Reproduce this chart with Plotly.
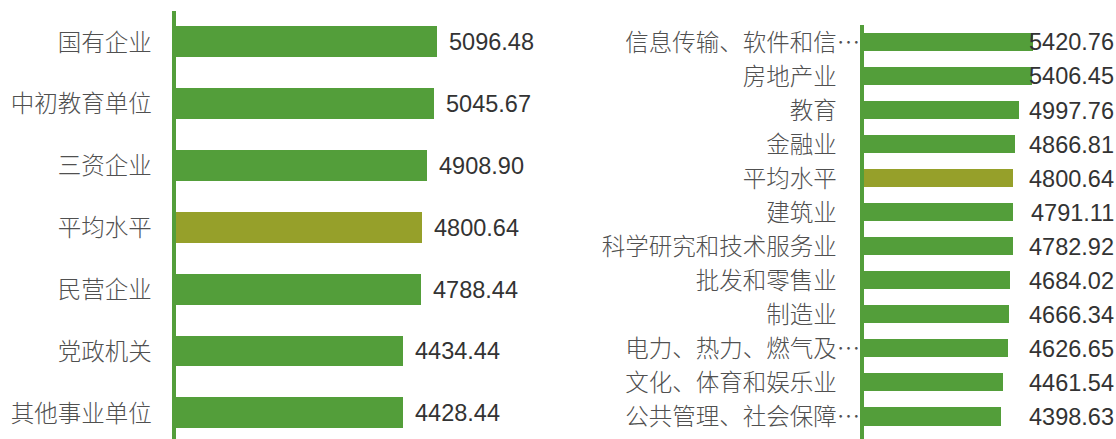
import plotly.graph_objects as go

# ---------------- data ----------------
left_categories = ["国有企业", "中初教育单位", "三资企业", "平均水平", "民营企业", "党政机关", "其他事业单位"]
left_values = [5096.48, 5045.67, 4908.90, 4800.64, 4788.44, 4434.44, 4428.44]

right_categories = [
    "信息传输、软件和信息技术服务业", "房地产业", "教育", "金融业", "平均水平", "建筑业",
    "科学研究和技术服务业", "批发和零售业", "制造业", "电力、热力、燃气及水生产和供应业",
    "文化、体育和娱乐业", "公共管理、社会保障和社会组织",
]
right_values = [5420.76, 5406.45, 4997.76, 4866.81, 4800.64, 4791.11, 4782.92,
                4684.02, 4666.34, 4626.65, 4461.54, 4398.63]

average_label = "平均水平"

# ---------------- style ----------------
W, H = 1116, 439
GREEN = "#539e3a"
OLIVE = "#96a02a"
LABEL_COLOR = "#505050"
NUM_COLOR = "#333333"
CJK = "Noto Sans CJK SC, Noto Sans, sans-serif"
NUM_FONT = "Liberation Sans, Arial, sans-serif"
FS = 23.5


def tick_text(name, limit=10):
    if len(name) > limit:
        return name[:limit - 1] + "…"
    return name + "\u3000"


def colors(cats):
    return [OLIVE if c == average_label else GREEN for c in cats]


fig = go.Figure()

fig.add_trace(go.Bar(
    x=left_values, y=left_categories, orientation="h",
    marker=dict(color=colors(left_categories), line=dict(width=0)),
    width=0.5, xaxis="x", yaxis="y", hoverinfo="x+y",
))
fig.add_trace(go.Bar(
    x=right_values, y=right_categories, orientation="h",
    marker=dict(color=colors(right_categories), line=dict(width=0)),
    width=0.53, xaxis="x2", yaxis="y2", hoverinfo="x+y",
))

annotations = []
for c, v in zip(left_categories, left_values):
    annotations.append(dict(
        x=v, y=c, xref="x", yref="y", text=f"{v:.2f}", showarrow=False,
        xanchor="left", yanchor="middle", xshift=10,
        font=dict(family=NUM_FONT, size=FS, color=NUM_COLOR),
    ))
for c, v in zip(right_categories, right_values):
    annotations.append(dict(
        x=1116 / W, y=c, xref="paper", yref="y2", text=f"{v:.2f}", showarrow=False,
        xanchor="right", yanchor="middle",
        font=dict(family=NUM_FONT, size=FS, color=NUM_COLOR),
    ))

axis_common = dict(showgrid=False, zeroline=False, showticklabels=False, showline=False, ticks="", fixedrange=True)

fig.update_layout(
    width=W, height=H,
    margin=dict(l=0, r=0, t=0, b=0),
    paper_bgcolor="white", plot_bgcolor="white",
    showlegend=False,
    bargap=0,
    annotations=annotations,
    xaxis=dict(domain=[176 / W, 560 / W], range=[0, 7498], anchor="y", **axis_common),
    xaxis2=dict(domain=[864 / W, 1.0], range=[0, 8103], anchor="y2", **axis_common),
    yaxis=dict(
        domain=[0, (H - 9.5) / H], anchor="x",
        type="category", categoryorder="array", categoryarray=left_categories,
        range=[6.416, -0.5],
        tickmode="array", tickvals=left_categories,
        ticktext=[tick_text(c) for c in left_categories],
        showline=True, linecolor=GREEN, linewidth=4,
        showgrid=False, zeroline=False, ticks="", ticklabelstandoff=-8,
        tickfont=dict(family=CJK, size=FS, color=LABEL_COLOR, weight=300),
    ),
    yaxis2=dict(
        domain=[0, (H - 23.5) / H], anchor="x2",
        type="category", categoryorder="array", categoryarray=right_categories,
        range=[11.649, -0.5],
        tickmode="array", tickvals=right_categories,
        ticktext=[tick_text(c) for c in right_categories],
        showline=True, linecolor=GREEN, linewidth=4,
        showgrid=False, zeroline=False, ticks="", ticklabelstandoff=-5,
        tickfont=dict(family=CJK, size=FS, color=LABEL_COLOR, weight=300),
    ),
)

fig.write_html(
    "out.html",
    config={"displayModeBar": False},
    post_script="document.body.style.margin='0';document.body.style.overflow='hidden';",
)
